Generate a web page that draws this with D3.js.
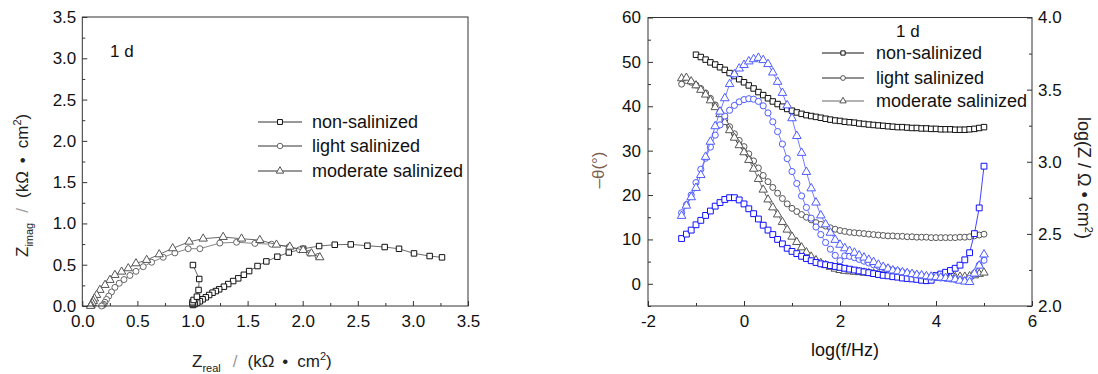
<!DOCTYPE html>
<html><head><meta charset="utf-8">
<script src="https://cdn.jsdelivr.net/npm/d3@7"></script>
<style>
body{margin:0;background:#fff;}
svg text{font-family:"Liberation Sans",Arial,sans-serif;}
</style>
</head><body>
<svg id="c" width="1098" height="374"></svg>
<script>
// ---------- Nyquist data (kΩ·cm²) ----------
const seriesNames = ["non-salinized", "light salinized", "moderate salinized"];
const nyqNonX = [3.264,3.152,3.010,2.874,2.744,2.587,2.436,2.291,2.149,2.004,1.874,1.770,1.670,1.590,1.514,1.466,1.415,1.369,1.324,1.285,1.242,1.212,1.182,1.151,1.121,1.092,1.067,1.043,1.022,1.005,1.000,1.000,1.010,1.040,1.055,1.061,1.004];
const nyqNonY = [0.589,0.605,0.637,0.693,0.714,0.730,0.746,0.742,0.726,0.693,0.648,0.597,0.540,0.484,0.423,0.378,0.335,0.302,0.266,0.234,0.202,0.181,0.161,0.133,0.105,0.081,0.057,0.040,0.024,0.012,0.025,0.045,0.073,0.113,0.194,0.327,0.496];
const nyqLightX = [2.140,2.060,1.970,1.877,1.717,1.566,1.400,1.248,1.067,0.961,0.840,0.734,0.629,0.553,0.487,0.432,0.378,0.335,0.296,0.265,0.240,0.220,0.205,0.195,0.185,0.175];
const nyqLightY = [0.600,0.640,0.680,0.718,0.748,0.758,0.772,0.762,0.694,0.694,0.643,0.590,0.530,0.476,0.420,0.370,0.320,0.275,0.225,0.170,0.120,0.080,0.045,0.020,0.008,0.000];
const nyqModX = [2.155,2.079,2.004,1.883,1.762,1.611,1.445,1.278,1.097,0.970,0.820,0.698,0.584,0.487,0.417,0.357,0.296,0.251,0.206,0.160,0.130,0.110,0.100,0.090,0.080,0.075];
const nyqModY = [0.589,0.637,0.677,0.718,0.742,0.798,0.815,0.835,0.815,0.778,0.698,0.625,0.557,0.516,0.456,0.415,0.375,0.315,0.254,0.194,0.133,0.090,0.060,0.035,0.012,0.000];

// ---------- Bode data ----------
const logf = [-1.3,-1.2,-1.1,-1.0,-0.9,-0.8,-0.7,-0.6,-0.5,-0.4,-0.3,-0.2,-0.1,0.0,0.1,0.2,0.3,0.4,0.5,0.6,0.7,0.8,0.9,1.0,1.1,1.2,1.3,1.4,1.5,1.6,1.7,1.8,1.9,2.0,2.1,2.2,2.3,2.4,2.5,2.6,2.7,2.8,2.9,3.0,3.1,3.2,3.3,3.4,3.5,3.6,3.7,3.8,3.9,4.0,4.1,4.2,4.3,4.4,4.5,4.6,4.7,4.8,4.9,5.0];
// log(Z / Ω·cm²) — right axis
const logZNon = [null,null,null,3.742,3.726,3.708,3.689,3.674,3.655,3.637,3.615,3.594,3.572,
  3.551,3.529,3.508,3.483,3.462,3.440,3.418,3.400,3.382,3.366,
  3.354,3.342,3.332,3.323,3.317,3.311,3.305,3.298,3.292,3.286,
  3.283,3.277,3.274,3.271,3.265,3.262,3.258,3.255,3.252,3.249,
  3.246,3.243,3.240,3.240,3.237,3.234,3.234,3.231,3.231,3.228,
  3.228,3.225,3.225,3.225,3.222,3.222,3.222,3.225,3.228,3.234,3.240];
const logZLight = [3.538,3.563,3.551,3.532,3.508,3.477,3.440,3.394,3.345,3.292,
  3.243,3.194,3.148,3.105,3.055,3.006,2.957,2.905,2.862,2.822,
  2.782,2.745,2.708,2.677,2.655,2.634,2.615,2.597,2.578,2.566,
  2.554,2.542,2.532,2.523,2.517,2.511,2.508,2.505,2.502,2.498,
  2.495,2.492,2.489,2.486,2.486,2.483,2.483,2.480,2.480,2.477,
  2.477,2.477,2.474,2.474,2.474,2.474,2.474,2.474,2.477,2.477,
  2.480,2.486,2.492,2.498];
const logZMod = [3.578,3.582,3.557,3.529,3.498,3.465,3.425,3.378,3.329,3.274,
  3.218,3.166,3.114,3.065,3.012,2.951,2.880,2.806,2.738,2.683,
  2.634,2.582,2.529,2.480,2.443,2.406,2.372,2.342,2.317,2.298,
  2.283,2.271,2.258,2.249,2.243,2.240,2.237,2.234,2.231,2.228,
  2.225,2.222,2.218,2.215,2.212,2.209,2.206,2.203,2.203,2.200,
  2.200,2.197,2.197,2.197,2.197,2.197,2.197,2.200,2.203,2.203,
  2.206,2.212,2.222,2.231];
// -θ (degrees) — left axis
const phaseNon = [10.2,11.2,12.1,13.3,14.3,15.4,16.4,17.5,18.3,19.0,
  19.4,19.4,18.9,18.0,16.9,15.8,14.6,13.2,12.1,11.1,
  10.0,9.0,8.0,7.3,6.8,6.2,5.7,5.2,4.8,4.5,
  4.3,4.1,3.9,3.7,3.5,3.3,3.1,2.9,2.7,2.5,
  2.3,2.1,1.9,1.8,1.6,1.5,1.3,1.2,1.1,1.0,
  0.8,0.7,0.8,1.9,2.2,2.6,3.0,3.5,4.2,5.4,
  7.0,11.3,17.1,26.5];
const phaseLight = [16.0,17.8,20.0,22.8,25.8,28.3,30.8,33.5,35.8,37.8,
  39.1,40.2,41.0,41.5,41.7,41.6,41.1,40.1,38.5,36.5,
  34.3,31.5,28.2,25.3,22.6,19.8,17.2,14.8,12.8,11.1,
  9.3,7.8,6.4,5.2,6.3,6.2,5.9,5.5,5.1,4.7,
  4.3,4.0,3.7,3.4,3.1,2.9,2.6,2.4,2.2,2.0,
  1.8,1.6,1.5,1.4,1.3,1.2,1.1,1.0,0.9,0.8,
  1.2,2.4,4.2,5.3];
const phaseMod = [15.3,17.6,19.5,21.6,24.5,28.6,32.0,35.5,38.8,41.8,
  45.0,47.2,48.5,49.3,50.1,50.6,50.9,50.4,49.5,47.6,
  45.5,43.0,40.2,37.3,33.3,29.5,25.2,21.5,18.3,15.4,
  13.4,11.5,9.9,8.8,8.0,7.4,7.0,6.4,5.9,5.4,
  4.9,4.3,3.8,3.4,3.0,2.8,2.6,2.4,2.2,2.0,
  1.9,1.7,1.6,1.5,1.4,1.3,1.2,1.0,0.7,0.5,
  0.4,2.3,4.1,6.6];

// tick definitions
const nyqTicks = [0,0.5,1.0,1.5,2.0,2.5,3.0,3.5];
const nyqMinor = [0.25,0.75,1.25,1.75,2.25,2.75,3.25];
const bodeXTicks = [-2,0,2,4,6];
const bodeXMinor = [-1,1,3,5];
const phaseTicks = [0,10,20,30,40,50,60];
const phaseMinor = [-5,5,15,25,35,45,55];
const logZTicks = [2.0,2.5,3.0,3.5,4.0];
const logZMinor = [2.25,2.75,3.25,3.75];

const svg = d3.select("#c");
const FS = 17;
const frameColor = "#333";

function styleAxis(g){
  g.select(".domain").remove();
  g.selectAll(".tick line").attr("stroke", frameColor).attr("stroke-width",1);
  g.selectAll(".tick text").attr("font-size", FS).attr("fill","#111")
    .attr("font-family","Liberation Sans, Arial, sans-serif");
}
function minorAxis(g){
  g.select(".domain").remove();
  g.selectAll(".tick text").remove();
  g.selectAll(".tick line").attr("stroke", frameColor).attr("stroke-width",1);
}
function drawSeries(g, xs, ys, xS, yS, shape, size, color, lineColor){
  const pts = xs.map((x,i)=>({x:x, y:ys[i]})).filter(d=>d.y!=null);
  g.append("path")
    .attr("d", d3.line().x(d=>xS(d.x)).y(d=>yS(d.y))(pts))
    .attr("fill","none").attr("stroke",lineColor).attr("stroke-width",0.8);
  g.append("g").selectAll("path").data(pts).join("path")
    .attr("transform", d=>`translate(${xS(d.x)},${yS(d.y)})`)
    .attr("d", d3.symbol(shape, size)())
    .attr("fill","#fff").attr("stroke",color).attr("stroke-width",1);
}
const hyphenInt = d => String(d).replace("\u2212","-");

// ================= LEFT: Nyquist =================
const L = {x0:82.3, x1:468, y0:17, y1:306};
const nx = d3.scaleLinear().domain([0,3.5]).range([L.x0, L.x1]);
const ny = d3.scaleLinear().domain([0,3.5]).range([L.y1, L.y0]);
const gl = svg.append("g");

gl.append("g").attr("transform",`translate(0,${L.y1})`)
  .call(d3.axisBottom(nx).tickValues(nyqTicks).tickSize(-5).tickPadding(9).tickFormat(d3.format(".1f"))).call(styleAxis);
gl.append("g").attr("transform",`translate(0,${L.y1})`)
  .call(d3.axisBottom(nx).tickValues(nyqMinor).tickSize(-3)).call(minorAxis);
gl.append("g").attr("transform",`translate(${L.x0},0)`)
  .call(d3.axisLeft(ny).tickValues(nyqTicks).tickSize(-5).tickPadding(6).tickFormat(d3.format(".1f"))).call(styleAxis);
gl.append("g").attr("transform",`translate(${L.x0},0)`)
  .call(d3.axisLeft(ny).tickValues(nyqMinor).tickSize(-3)).call(minorAxis);

const nyqColors = ["#111","#666","#555"];
drawSeries(gl, nyqNonX, nyqNonY, nx, ny, d3.symbolSquare, 30, nyqColors[0], "#444");
drawSeries(gl, nyqLightX, nyqLightY, nx, ny, d3.symbolCircle, 28, nyqColors[1], "#666");
drawSeries(gl, nyqModX, nyqModY, nx, ny, d3.symbolTriangle, 30, nyqColors[2], "#444");

gl.append("rect").attr("x",L.x0).attr("y",L.y0).attr("width",L.x1-L.x0).attr("height",L.y1-L.y0)
  .attr("fill","none").attr("stroke",frameColor).attr("stroke-width",1);

gl.append("text").attr("x",110).attr("y",57).attr("font-size",17).attr("fill","#111").text("1 d");

// legend left
const legL = {x0:258, x1:302, xm:280, xt:312, ys:[122,146,171]};
const legShapes = [d3.symbolSquare, d3.symbolCircle, d3.symbolTriangle];
seriesNames.forEach((name,i)=>{
  const y = legL.ys[i];
  gl.append("line").attr("x1",legL.x0).attr("x2",legL.x1).attr("y1",y).attr("y2",y).attr("stroke","#333").attr("stroke-width",1);
  gl.append("path").attr("transform",`translate(${legL.xm},${y})`).attr("d",d3.symbol(legShapes[i],24)())
    .attr("fill","#fff").attr("stroke",nyqColors[i]).attr("stroke-width",1);
  gl.append("text").attr("x",legL.xt).attr("y",y+6).attr("font-size",18).attr("fill","#111").text(name);
});

// axis titles left
const xt = gl.append("text").attr("x",192).attr("y",367).attr("font-size",17).attr("fill","#222");
xt.append("tspan").text("Z");
xt.append("tspan").attr("font-size",11).attr("dy",5).text("real");
xt.append("tspan").attr("dx",12).attr("dy",-5).attr("fill","#999").text("/");
xt.append("tspan").attr("dx",10).text("(kΩ");
xt.append("tspan").attr("dx",8).text("•");
xt.append("tspan").attr("dx",9).text("cm");
xt.append("tspan").attr("font-size",11).attr("dy",-7).text("2");
xt.append("tspan").attr("dy",7).text(")");

const yt = gl.append("text").attr("transform","translate(28,257) rotate(-90)").attr("font-size",17).attr("fill","#222");
yt.append("tspan").text("Z");
yt.append("tspan").attr("font-size",11).attr("dy",5).text("imag");
yt.append("tspan").attr("dx",10).attr("dy",-5).attr("fill","#999").text("/");
yt.append("tspan").attr("dx",10).text("(kΩ");
yt.append("tspan").attr("dx",8).text("•");
yt.append("tspan").attr("dx",9).text("cm");
yt.append("tspan").attr("font-size",11).attr("dy",-7).text("2");
yt.append("tspan").attr("dy",7).text(")");

// ================= RIGHT: Bode =================
const R = {x0:648, x1:1032, y0:17.5, y1:306};
const bx = d3.scaleLinear().domain([-2,6]).range([R.x0, R.x1]);
const byP = d3.scaleLinear().domain([-5,60]).range([R.y1, R.y0]);
const byZ = d3.scaleLinear().domain([2,4]).range([R.y1, R.y0]);
const gr = svg.append("g");

gr.append("g").attr("transform",`translate(0,${R.y1})`)
  .call(d3.axisBottom(bx).tickValues(bodeXTicks).tickSize(-5).tickPadding(9).tickFormat(hyphenInt)).call(styleAxis);
gr.append("g").attr("transform",`translate(0,${R.y1})`)
  .call(d3.axisBottom(bx).tickValues(bodeXMinor).tickSize(-3)).call(minorAxis);
gr.append("g").attr("transform",`translate(${R.x0},0)`)
  .call(d3.axisLeft(byP).tickValues(phaseTicks).tickSize(-5).tickPadding(7).tickFormat(d3.format("d"))).call(styleAxis);
gr.append("g").attr("transform",`translate(${R.x0},0)`)
  .call(d3.axisLeft(byP).tickValues(phaseMinor).tickSize(-3)).call(minorAxis);
gr.append("g").attr("transform",`translate(${R.x1},0)`)
  .call(d3.axisRight(byZ).tickValues(logZTicks).tickSize(-5).tickPadding(6).tickFormat(d3.format(".1f"))).call(styleAxis);
gr.append("g").attr("transform",`translate(${R.x1},0)`)
  .call(d3.axisRight(byZ).tickValues(logZMinor).tickSize(-3)).call(minorAxis);

const blueDark = "#1010ff", blueLight = "#4f5cff";
drawSeries(gr, logf, logZNon, bx, byZ, d3.symbolSquare, 30, "#111", "#111");
drawSeries(gr, logf, logZLight, bx, byZ, d3.symbolCircle, 28, "#555", "#333");
drawSeries(gr, logf, logZMod, bx, byZ, d3.symbolTriangle, 30, "#555", "#444");
drawSeries(gr, logf, phaseNon, bx, byP, d3.symbolSquare, 34, blueDark, blueDark);
drawSeries(gr, logf, phaseLight, bx, byP, d3.symbolCircle, 30, blueLight, blueLight);
drawSeries(gr, logf, phaseMod, bx, byP, d3.symbolTriangle, 32, blueLight, blueLight);

gr.append("rect").attr("x",R.x0).attr("y",R.y0).attr("width",R.x1-R.x0).attr("height",R.y1-R.y0)
  .attr("fill","none").attr("stroke",frameColor).attr("stroke-width",1);

gr.append("text").attr("x",896).attr("y",37).attr("font-size",17).attr("fill","#111").text("1 d");

const legR = {x0:822, x1:864, xm:843, xt:876, ys:[53,78,101]};
const legRColors = ["#111","#555","#555"];
const legRLine = ["#111","#222","#666"];
seriesNames.forEach((name,i)=>{
  const y = legR.ys[i];
  gr.append("line").attr("x1",legR.x0).attr("x2",legR.x1).attr("y1",y).attr("y2",y).attr("stroke",legRLine[i]).attr("stroke-width",1);
  gr.append("path").attr("transform",`translate(${legR.xm},${y})`).attr("d",d3.symbol(legShapes[i],18)())
    .attr("fill","#fff").attr("stroke",legRColors[i]).attr("stroke-width",1);
  gr.append("text").attr("x",legR.xt).attr("y",y+6).attr("font-size",18).attr("fill","#111").text(name);
});

gr.append("text").attr("x",845).attr("y",356).attr("text-anchor","middle").attr("font-size",18).attr("fill","#111").text("log(f/Hz)");
gr.append("text").attr("transform","translate(604,170) rotate(-90)").attr("text-anchor","middle")
  .attr("font-size",17).attr("fill","#7d5f52").text("\u2013\u03b8(\u00b0)");
const rt = gr.append("text").attr("transform","translate(1078,117) rotate(90)").attr("font-size",18).attr("fill","#222");
rt.append("tspan").text("log(Z / Ω • cm");
rt.append("tspan").attr("font-size",11).attr("dy",-7).text("2");
rt.append("tspan").attr("dy",7).text(")");
</script>
</body></html>
